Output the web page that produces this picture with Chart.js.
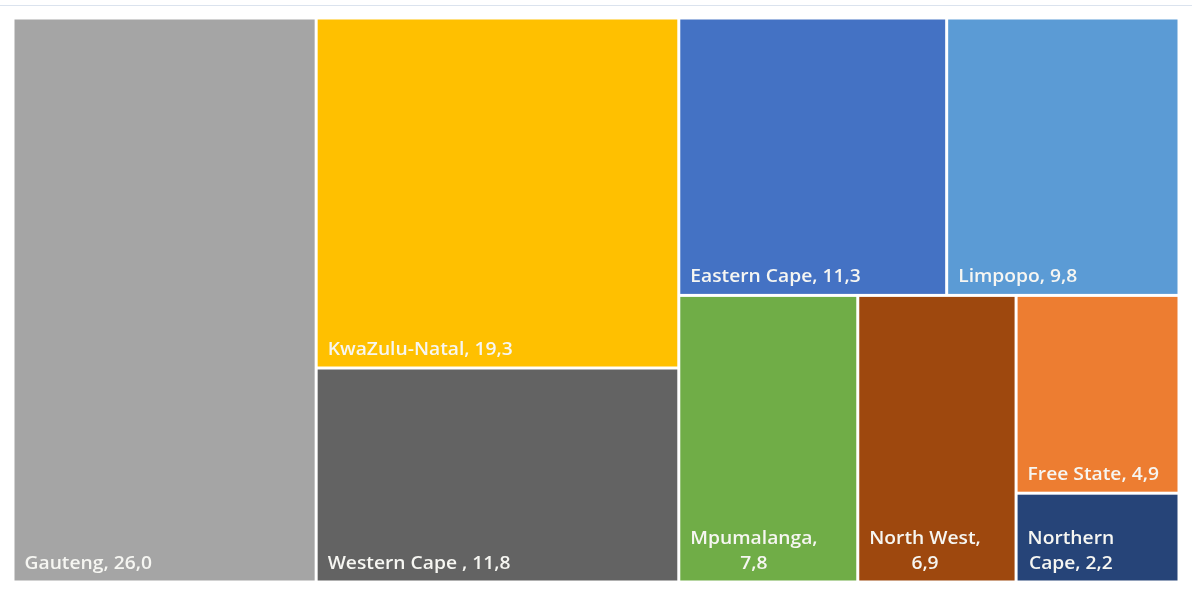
<!DOCTYPE html>
<html>
<head>
<meta charset="utf-8">
<title>Provincial share</title>
<script src="https://cdn.jsdelivr.net/npm/chart.js@4.4.1/dist/chart.umd.min.js"></script>
<style>
  html, body { margin: 0; padding: 0; background: #ffffff; }
  #wrap { position: relative; width: 1192px; height: 592px; }
  #topline { position: absolute; left: 0; top: 5px; width: 1192px; height: 1px; background: #dbe3ee; }
</style>
</head>
<body>
<div id="wrap">
  <div id="topline"></div>
  <canvas id="tree" width="1192" height="592"></canvas>
</div>
<script>
const regions = ["Gauteng", "KwaZulu-Natal", "Western Cape ", "Eastern Cape", "Limpopo", "Mpumalanga", "North West", "Free State", "Northern Cape"];
const shares = [26.0, 19.3, 11.8, 11.3, 9.8, 7.8, 6.9, 4.9, 2.2];
const colors = ["#a5a5a5", "#ffc000", "#636363", "#4472c4", "#5b9bd5", "#70ad47", "#9e480e", "#ed7d31", "#264478"];

const GAP = 3;
const PAD = 10;
const FONT = "600 17.5px 'Open Sans'";
const STRETCH = 1.1;
const LINE_H = 25;

function worst(row, sum, side) {
  const thick = sum / side;
  return Math.max(...row.map((it) => {
    const len = it.area / thick;
    return Math.max(len / thick, thick / len);
  }));
}

// squarified layout, in pixels relative to the plot area
function squarify(items, x, y, w, h) {
  const out = [];
  while (items.length) {
    const vertical = w >= h;
    const side = Math.min(w, h);
    let row = [items[0]];
    let rowSum = items[0].area;
    let k = 1;
    while (k < items.length) {
      const next = row.concat(items[k]);
      const nextSum = rowSum + items[k].area;
      if (worst(next, nextSum, side) > worst(row, rowSum, side)) break;
      row = next;
      rowSum = nextSum;
      k++;
    }
    const thick = rowSum / side;
    let offset = 0;
    row.forEach((it) => {
      const len = it.area / thick;
      if (vertical) out.push({ index: it.index, x: x, y: y + offset, w: thick, h: len });
      else out.push({ index: it.index, x: x + offset, y: y, w: len, h: thick });
      offset += len;
    });
    if (vertical) { x += thick; w -= thick; } else { y += thick; h -= thick; }
    items = items.slice(k);
  }
  return out;
}

function wrapLabel(ctx, text, maxWidth) {
  const words = text.split(" ").filter((s) => s.length);
  const lines = [];
  let line = "";
  words.forEach((word) => {
    const test = line ? line + " " + word : word;
    if (line && ctx.measureText(test).width * STRETCH > maxWidth) {
      lines.push(line);
      line = word;
    } else {
      line = test;
    }
  });
  if (line) lines.push(line);
  return lines;
}

const treemapPlugin = {
  id: "treemap",
  afterDatasetsDraw(chart) {
    const ctx = chart.ctx;
    const xs = chart.scales.x;
    const ys = chart.scales.y;
    const W = xs.getPixelForValue(100) - xs.getPixelForValue(0);
    const H = ys.getPixelForValue(100) - ys.getPixelForValue(0);
    const total = shares.reduce((a, b) => a + b, 0);

    const items = shares
      .map((v, i) => ({ index: i, area: (v / total) * W * H }))
      .sort((a, b) => b.area - a.area);
    const cells = squarify(items, 0, 0, W, H);

    ctx.save();
    cells.forEach((c) => {
      const left = xs.getPixelForValue((c.x / W) * 100) + GAP / 2;
      const right = xs.getPixelForValue(((c.x + c.w) / W) * 100) - GAP / 2;
      const top = ys.getPixelForValue((c.y / H) * 100) + GAP / 2;
      const bottom = ys.getPixelForValue(((c.y + c.h) / H) * 100) - GAP / 2;

      ctx.fillStyle = colors[c.index];
      ctx.fillRect(left, top, right - left, bottom - top);

      const label = regions[c.index] + ", " + shares[c.index].toFixed(1).replace(".", ",");
      ctx.font = FONT;
      ctx.fillStyle = "#f6f6f2";
      ctx.textBaseline = "alphabetic";
      const lines = wrapLabel(ctx, label, right - left - 2 * PAD);
      const widths = lines.map((l) => ctx.measureText(l).width * STRETCH);
      const blockW = Math.max(...widths);
      lines.forEach((l, i) => {
        const baseY = bottom - 12 - (lines.length - 1 - i) * LINE_H;
        const lx = left + PAD + (blockW - widths[i]) / 2;
        ctx.save();
        ctx.translate(lx, baseY);
        ctx.scale(STRETCH, 1);
        ctx.fillText(l, 0, 0);
        ctx.restore();
      });
    });
    ctx.restore();
  },
};

new Chart(document.getElementById("tree"), {
  type: "scatter",
  data: {
    datasets: [{ label: "Share of population (%)", data: [] }],
  },
  options: {
    responsive: false,
    animation: false,
    layout: { padding: { left: 13, top: 18, right: 13, bottom: 10 } },
    plugins: {
      legend: { display: false },
      tooltip: { enabled: false },
    },
    scales: {
      x: { type: "linear", min: 0, max: 100, display: false },
      y: { type: "linear", min: 0, max: 100, reverse: true, display: false },
    },
  },
  plugins: [treemapPlugin],
});
</script>
</body>
</html>
